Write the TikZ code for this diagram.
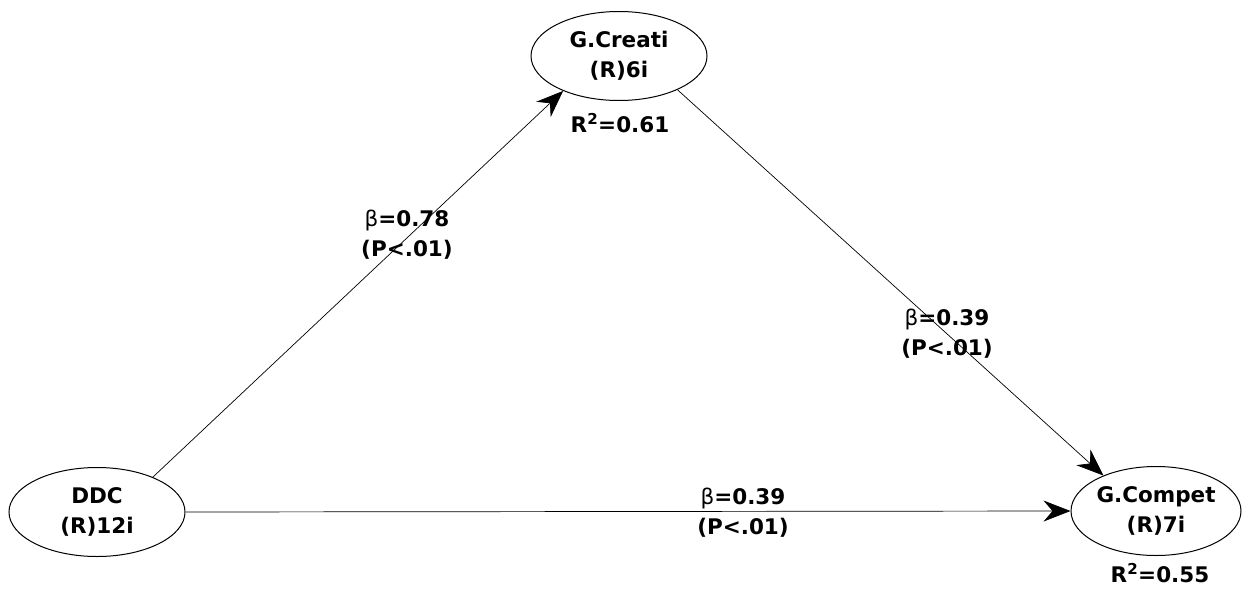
\documentclass[tikz,border=0pt]{standalone}
\usepackage{fontspec}
\setmainfont{DejaVu Sans}
\usetikzlibrary{arrows.meta,
                shapes.geometric
                }
\def\coeffont{\bfseries\fontsize{21.5}{30}\selectfont}

\begin{document}
\begin{tikzpicture}[x=1pt, y=-1pt,
    latent/.style={draw, ellipse, line width=1pt, minimum width=176pt, minimum height=89pt,
                   inner sep=0pt, align=center, font=\coeffont},
    effect/.style={draw, line width=0.7pt, -{Stealth[length=27pt, width=21pt, inset=9pt]}},
    coef/.style={align=center, inner sep=0pt, font=\coeffont}]
            %frame
            \useasboundingbox (0,0) rectangle (1245,589);

            %constructs
            \node[latent] (DDC) at (97,512) {DDC\\(R)12i};
            \node[latent] (Creati) at (619,56) {G.Creati\\(R)6i};
            \node[latent, minimum width=170pt] (Compet) at (1156,511) {G.Compet\\(R)7i};

            %paths
            \draw[effect] (DDC.32) -- (Creati.212);
            \draw[effect] (Creati.-30) -- (Compet.146);
            \draw[effect] (DDC.east) -- (Compet.west);

            %coefficients
            \node[coef] (b1) at (407,235) {\textmd{β}=0.78\\(P<.01)};
            \node[coef] (b2) at (947,334) {\textmd{β}=0.39\\(P<.01)};
            \node[coef] (b3) at (743,513) {\textmd{β}=0.39\\(P<.01)};

            %explained variance
            \node[coef] (r1) at (620,123) {R\textsuperscript{2}=0.61};
            \node[coef] (r2) at (1160,573) {R\textsuperscript{2}=0.55};
\end{tikzpicture}
\end{document}
